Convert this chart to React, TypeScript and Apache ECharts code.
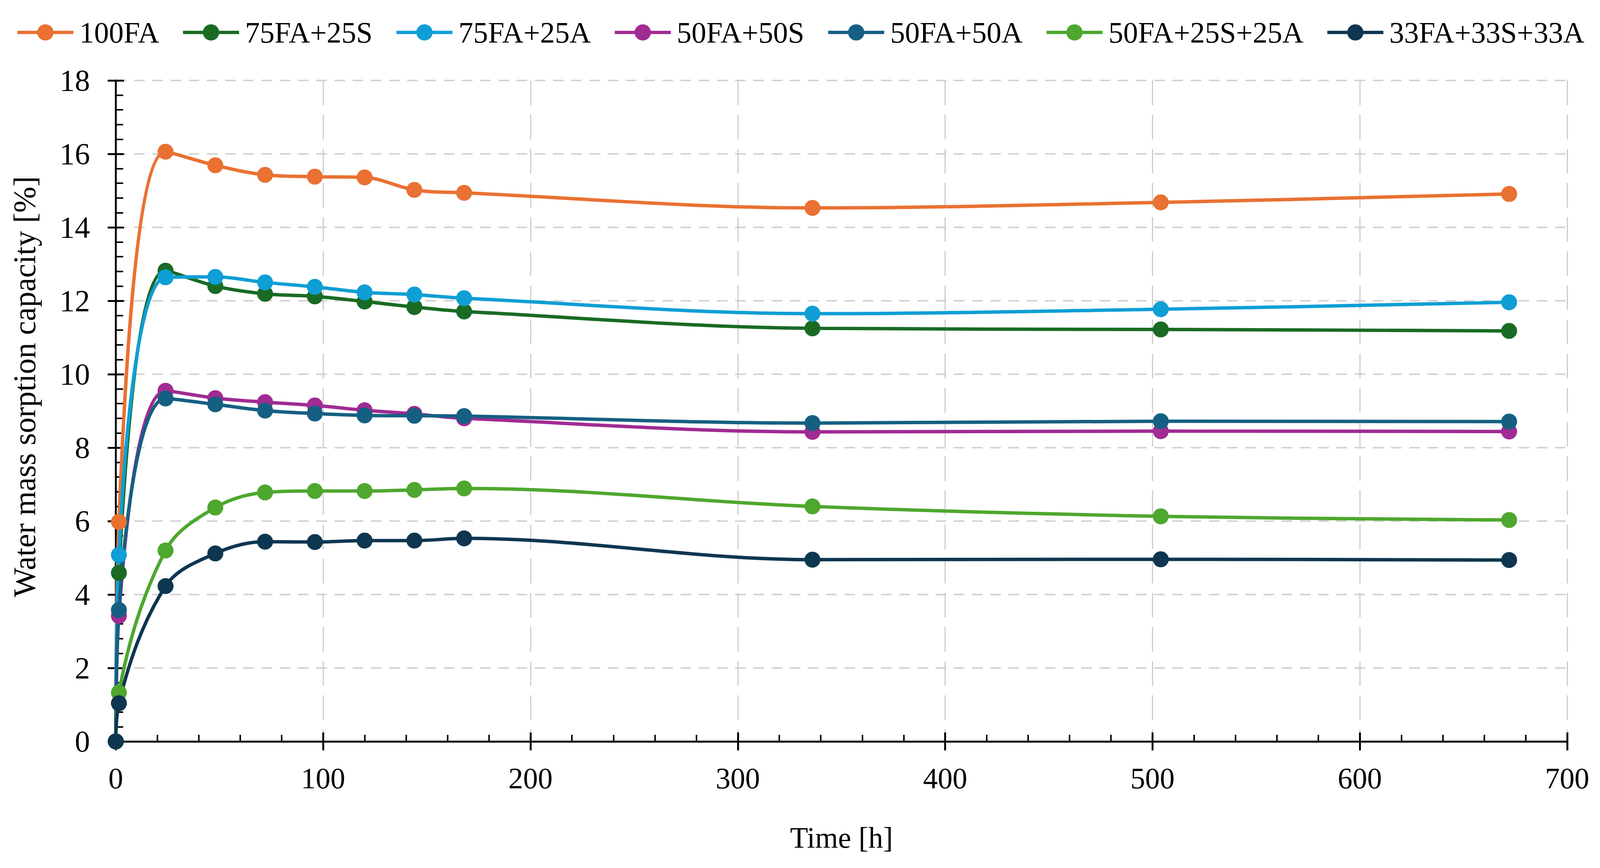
import { useEffect, useRef } from 'react';
import * as echarts from 'echarts';

const hours = [0, 1.5, 24, 48, 72, 96, 120, 144, 168, 336, 504, 672];

const fa100 = [0, 5.98, 16.06, 15.69, 15.43, 15.38, 15.36, 15.02, 14.94, 14.53, 14.68, 14.91];
const fa75s25 = [0, 4.59, 12.82, 12.4, 12.19, 12.12, 11.98, 11.83, 11.71, 11.25, 11.22, 11.18];
const fa75a25 = [0, 5.08, 12.64, 12.65, 12.5, 12.38, 12.23, 12.17, 12.07, 11.65, 11.77, 11.96];
const fa50s50 = [0, 3.42, 9.55, 9.35, 9.24, 9.15, 9.02, 8.92, 8.8, 8.43, 8.45, 8.44];
const fa50a50 = [0, 3.58, 9.34, 9.18, 9.01, 8.93, 8.88, 8.87, 8.86, 8.67, 8.72, 8.71];
const fa50s25a25 = [0, 1.33, 5.2, 6.37, 6.78, 6.82, 6.82, 6.85, 6.89, 6.4, 6.13, 6.03];
const fa33 = [0, 1.04, 4.23, 5.12, 5.44, 5.43, 5.47, 5.47, 5.53, 4.95, 4.96, 4.94];

const seriesNames = [
  '100FA',
  '75FA+25S',
  '75FA+25A',
  '50FA+50S',
  '50FA+50A',
  '50FA+25S+25A',
  '33FA+33S+33A',
];
const seriesValues = [fa100, fa75s25, fa75a25, fa50s50, fa50a50, fa50s25a25, fa33];
const colors = ['#E97132', '#196B24', '#0F9ED5', '#A02B93', '#156082', '#4EA72E', '#0E3650'];

const FONT = "'Liberation Serif', 'Times New Roman', serif";

export default function App() {
  const ref = useRef<HTMLDivElement>(null);

  useEffect(() => {
    document.documentElement.style.overflow = 'hidden';
    document.body.style.margin = '0';
    document.body.style.overflow = 'hidden';
    const el = ref.current;
    if (!el) return;

    const w = el.clientWidth || 4339;
    const h = el.clientHeight || 2222;
    const sx = w / 4339;
    const sy = h / 2222;
    const s = Math.sqrt(sx * sy);

    const chart = echarts.init(el, undefined, { renderer: 'svg' });

    const series: echarts.SeriesOption[] = seriesNames.map((name, i) => ({
      name,
      type: 'line',
      data: hours.map((t, j) => [t, seriesValues[i][j]]),
      smooth: 0.35,
      symbol: 'circle',
      symbolSize: 42 * s,
      xAxisIndex: 0,
      yAxisIndex: 0,
      lineStyle: { width: 9 * s, color: colors[i] },
      itemStyle: { color: colors[i] },
    }));

    const tickLine = { color: '#000', width: 5 * s };
    const minorLine = { color: '#000', width: 4 * s };
    const txtX = { fontFamily: FONT, fontSize: 80 * sx, color: '#000' };
    const txtY = { fontFamily: FONT, fontSize: 80 * s, color: '#000' };

    chart.setOption({
      animation: false,
      backgroundColor: '#fff',
      textStyle: { fontFamily: FONT },
      legend: {
        top: 40 * sy,
        left: 'center',
        itemWidth: 152 * sx,
        itemHeight: 52 * sy,
        itemGap: 60 * sx,
        lineStyle: { width: 9 * s },
        textStyle: { ...txtX, padding: [0, 0, 0, 11 * sx] },
        data: seriesNames,
      },
      grid: { left: 314 * sx, right: 89 * sx, top: 206 * sy, bottom: 324 * sy },
      xAxis: [
        {
          type: 'value',
          min: 0,
          max: 700,
          interval: 100,
          name: 'Time [h]',
          nameLocation: 'middle',
          nameGap: 208 * sy,
          nameTextStyle: txtX,
          axisLine: { lineStyle: tickLine },
          axisTick: { inside: true, length: 23 * sy, lineStyle: tickLine },
          minorTick: { show: true, splitNumber: 5, length: 17 * sy, lineStyle: minorLine },
          axisLabel: { margin: 56 * sy, ...txtX },
          splitLine: {
            show: true,
            lineStyle: { color: '#CCCCCC', width: 3 * s, type: [65 * s, 25 * s] },
          },
        },
        {
          type: 'value',
          min: 0,
          max: 700,
          interval: 100,
          position: 'bottom',
          axisLine: { show: false },
          axisTick: { inside: false, length: 23 * sy, lineStyle: tickLine },
          axisLabel: { show: false },
          splitLine: { show: false },
        },
      ],
      yAxis: [
        {
          type: 'value',
          min: 0,
          max: 18,
          interval: 2,
          name: 'Water mass sorption capacity [%]',
          nameLocation: 'middle',
          nameGap: 205 * sx,
          nameTextStyle: { ...txtY, fontSize: 80 * sy, padding: [0, 0, 0, 124 * sy] },
          axisLine: { show: true, lineStyle: tickLine },
          axisTick: { show: true, inside: true, length: 22 * sx, lineStyle: tickLine },
          minorTick: { show: true, splitNumber: 5, length: 20 * sx, lineStyle: minorLine },
          axisLabel: { margin: 70 * sx, ...txtY },
          splitLine: {
            show: true,
            lineStyle: { color: '#D3D3D3', width: 4 * s, type: [28 * s, 20 * s] },
          },
        },
        {
          type: 'value',
          min: 0,
          max: 18,
          interval: 2,
          position: 'left',
          axisLine: { show: false },
          axisTick: { show: true, inside: false, length: 22 * sx, lineStyle: tickLine },
          axisLabel: { show: false },
          splitLine: { show: false },
        },
      ],
      series,
    });

    const onResize = () => chart.resize();
    window.addEventListener('resize', onResize);
    return () => {
      window.removeEventListener('resize', onResize);
      chart.dispose();
    };
  }, []);

  return <div ref={ref} style={{ width: '100vw', height: '100vh' }} />;
}
